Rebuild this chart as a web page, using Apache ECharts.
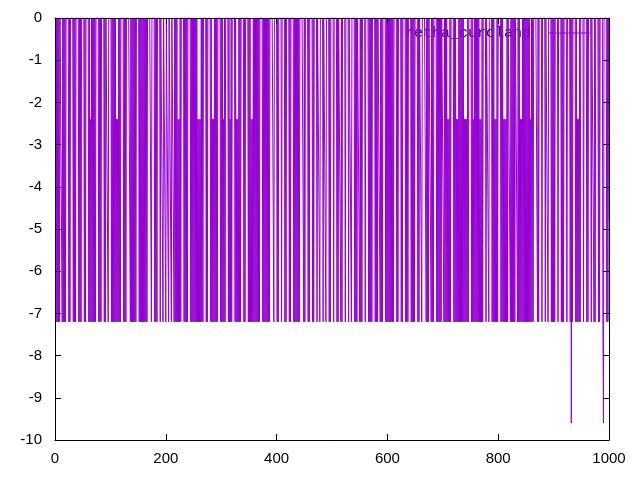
<!DOCTYPE html>
<html>
<head>
<meta charset="utf-8">
<script src="https://cdn.jsdelivr.net/npm/echarts@6/dist/echarts.min.js"></script>
<style>
html,body{margin:0;padding:0;background:#fff;}
#chart{width:640px;height:480px;}
</style>
</head>
<body>
<div id="chart"></div>
<script>
// Series name (legend text)
const seriesName = "retha_curcland";

// Level codes, one character per sample (x = 1..1000).
// '0' -> 0, '2' -> -2.4, '4' -> -4.8, '7' -> -7.2, '9' -> -9.6
const codesPart1 = ["07070707","0000","7070707","00000","707","00000","70707","00000","70707","00000","707","00000","7","07270","7070707","00000","70707","00000","707","0000","7","00000"];
const codesPart2 = ["7070707","0727270","707","00000","70707","0000000","70707070707","00000","707070707070707","0000000","7","00000","70707","00000","7","0000","7","0000","7","0000","7","0000","7","0000"];
const codesPart3 = ["70707","0727270","7","00000","7070707","00000","70707070707","072727270","707","00000","707","00000","7","0727270","70707","00000","707","07270","7","00000","7","07270","7","00000","7","0727270","707","00000","707","00000","707","0727270"];
const codesPart4 = ["70707070707","00000","7070707070707","0000000","7","00000","707","00000","7","00000","707","00000","707","00000","70707070707","0000000","707","00000","707","00000","707","00000","7","0000","7","00000","7","0000","7","00000","707","00000","7","00000","707","0000","707","00000","7","00000","7","0000","7","00000"];
const codesPart5 = ["70707","0000","70707","00000","7","00000","7070707","00000","70707","0000","70707","00000","707070707070707","00000","707","00000","707","00000","70707","00000","7070707","00000","707","0000","7","0000000","70707","0000","70707","00000","707070707","0000","70707","0727270","7","00000","707","0727270","7070707","072727270","7","00000","7","07270","7070707","0727270","7","00000","7","0000","7","00000","707","0727270","7","00000","707","072727270","7","0000","707070707","0000","707","0727270"];
const codesPart6 = ["70707070707","07270","707","0000000","707","00000","7","00000","7","0000","7","00000","7070707","00000","7","00000","70707","00000","7","00000","70907","00000","7","0727270","7","00000","7","00000","707","00000","7","0000","707","00000","707","00000","790000070704"];

const levelValues = {"0": 0, "2": -2.4, "4": -4.8, "7": -7.2, "9": -9.6};

const codeString = [codesPart1, codesPart2, codesPart3, codesPart4, codesPart5, codesPart6]
  .map(p => p.join("")).join("");
const seriesData = [];
for (let i = 0; i < codeString.length; i++) {
  seriesData.push([i + 1, levelValues[codeString[i]]]);
}

const chart = echarts.init(document.getElementById('chart'), null, {renderer: 'canvas'});
const fontFamily = '"Liberation Sans", Arial, sans-serif';
function axisCommon() {
  return {
    axisLine: {show: true, onZero: false, lineStyle: {color: '#000', width: 1}},
    axisTick: {show: true, inside: true, length: 6, lineStyle: {color: '#000', width: 1}},
    splitLine: {show: false},
    z: 5
  };
}
const plainNumber = v => String(v);
chart.setOption({
  animation: false,
  backgroundColor: '#fff',
  grid: {left: 55, right: 31, top: 18, bottom: 40, containLabel: false},
  xAxis: [
    Object.assign({type: 'value', min: 0, max: 1000, interval: 200, position: 'bottom',
      axisLabel: {color: '#000', fontSize: 15, fontFamily: fontFamily, margin: 11, formatter: plainNumber}}, axisCommon()),
    Object.assign({type: 'value', min: 0, max: 1000, interval: 200, position: 'top',
      axisLabel: {show: false}}, axisCommon())
  ],
  yAxis: [
    Object.assign({type: 'value', min: -10, max: 0, interval: 1, position: 'left',
      axisLabel: {color: '#000', fontSize: 15, fontFamily: fontFamily, margin: 13, formatter: plainNumber}}, axisCommon()),
    Object.assign({type: 'value', min: -10, max: 0, interval: 1, position: 'right',
      axisLabel: {show: false}}, axisCommon())
  ],
  graphic: [
    {type: 'text', z: 0, x: 531, y: 33,
      style: {text: seriesName, fill: '#000', font: '15px "Liberation Mono", "DejaVu Sans Mono", monospace', textAlign: 'right', textVerticalAlign: 'middle'}},
    {type: 'line', z: 0, shape: {x1: 548, y1: 33, x2: 590, y2: 33},
      style: {stroke: '#9400d3', lineWidth: 1}}
  ],
  series: [{
    name: seriesName,
    type: 'line',
    xAxisIndex: 0,
    yAxisIndex: 0,
    data: seriesData,
    showSymbol: false,
    symbol: 'none',
    sampling: null,
    z: 3,
    lineStyle: {color: '#9400d3', width: 1, join: 'bevel'},
    itemStyle: {color: '#9400d3'},
    clip: true
  }]
});
</script>
</body>
</html>
